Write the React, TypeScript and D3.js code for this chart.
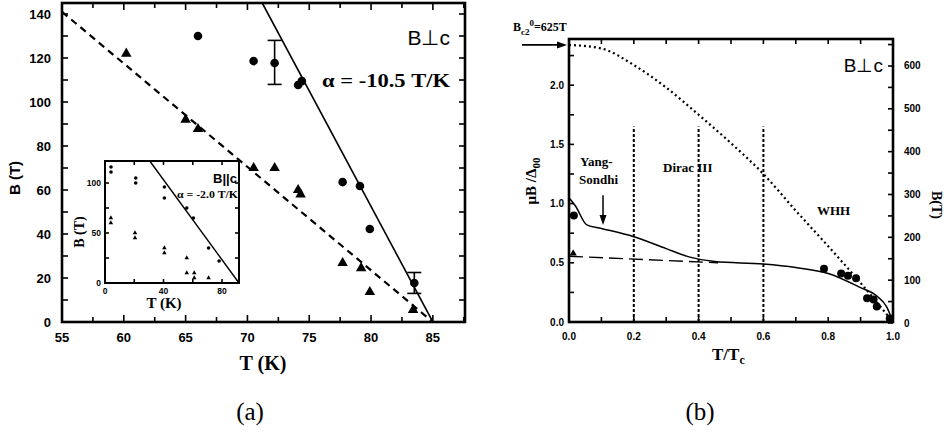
import React from "react";
import * as d3 from "d3";

const SANS = "'Liberation Sans', Arial, sans-serif";
const SERIF = "'Liberation Serif', 'Times New Roman', serif";

// ---- panel (a), B perpendicular to c ----
const circT = [66, 70.5, 72.2, 74.1, 74.4, 77.7, 79.1, 79.9, 83.5];
const circB = [130, 118.6, 117.7, 107.7, 109.5, 63.6, 61.8, 42.3, 17.7];
const triT = [60.2, 65, 66, 70.5, 72.2, 74.1, 74.3, 77.7, 79.2, 79.9, 83.4];
const triB = [122, 92, 87.7, 70, 70, 60, 58, 26.8, 24.5, 13.6, 5.5];
const errT = [72.2, 83.5];
const errLo = [108, 13];
const errHi = [128, 22.5];
const dashFitT = [55, 85];
const dashFitB = [141, 0];
const solidFitT = [71.2, 85];
const solidFitB = [145, 0];

// ---- inset, B parallel to c ----
const inCircT = [4.1, 4.1, 21, 21, 40.6, 40.6, 55.9, 60.4, 70.8, 78];
const inCircB = [116, 111, 105, 100, 96, 85, 75, 65, 35, 22];
const inTriT = [4, 4, 20.5, 20.5, 40.6, 40.6, 55.9, 55.9, 61, 61, 70.8];
const inTriB = [65, 60, 50, 45, 35, 30, 25, 10, 10, 5, 5];
const inFitT = [30.6, 91.6];
const inFitB = [122, 0];

// ---- panel (b) ----
const whhT = [0, 0.1, 0.2, 0.3, 0.4, 0.5, 0.6, 0.7, 0.8, 0.9, 1.0];
const whhV = [2.34, 2.31, 2.17, 1.98, 1.75, 1.51, 1.25, 0.94, 0.64, 0.33, 0];
const thT = [0, 0.02, 0.055, 0.1, 0.2, 0.3, 0.37, 0.45, 0.6, 0.7, 0.8, 0.9, 0.95, 0.98, 1.0];
const thV = [1.05, 0.98, 0.82, 0.79, 0.72, 0.62, 0.55, 0.51, 0.49, 0.46, 0.41, 0.29, 0.22, 0.13, 0];
const ldT = [0, 0.46];
const ldV = [0.555, 0.5];
const ptT = [0.015, 0.787, 0.84, 0.861, 0.886, 0.92, 0.94, 0.95, 0.99];
const ptV = [0.9, 0.45, 0.41, 0.39, 0.37, 0.2, 0.19, 0.13, 0.03];
const ptTriT = [0.013];
const ptTriV = [0.58];
const regionT = [0.2, 0.4, 0.6];
const regionTop = 1.65;

// scales
const xA = d3.scaleLinear().domain([55, 87.6]).range([62, 465]);
const yA = d3.scaleLinear().domain([0, 145]).range([322, 3]);
const xI = d3.scaleLinear().domain([0, 91.6]).range([105, 239]);
const yI = d3.scaleLinear().domain([0, 122]).range([283, 161]);
const xB = d3.scaleLinear().domain([0, 1]).range([569, 893]);
const yB = d3.scaleLinear().domain([0, 2.39]).range([322, 39]);
const yB2 = d3.scaleLinear().domain([0, 663]).range([323, 39]);

type Tick = { v: number; len: number };

function ticks(start: number, stop: number, step: number, majorEvery: number, big: number, small: number): Tick[] {
  const out: Tick[] = [];
  const n = Math.round((stop - start) / step);
  for (let i = 0; i <= n; i++) {
    out.push({ v: start + i * step, len: i % majorEvery === 0 ? big : small });
  }
  return out;
}

function Frame({ x, y, xt, yt, yt2, sw }: any) {
  const [x0, x1] = x.range();
  const [y0, y1] = y.range();
  const right = yt2 ? yt2.scale : y;
  return (
    <g stroke="#000" strokeWidth={1.6}>
      <rect x={x0} y={y1} width={x1 - x0} height={y0 - y1} fill="none" strokeWidth={sw} />
      {xt.map((t: Tick, i: number) => (
        <g key={"x" + i}>
          <line x1={x(t.v)} x2={x(t.v)} y1={y0} y2={y0 - t.len} />
          <line x1={x(t.v)} x2={x(t.v)} y1={y1} y2={y1 + t.len} />
        </g>
      ))}
      {yt.map((t: Tick, i: number) => (
        <line key={"y" + i} x1={x0} x2={x0 + t.len} y1={y(t.v)} y2={y(t.v)} />
      ))}
      {(yt2 ? yt2.ticks : yt).map((t: Tick, i: number) => (
        <line key={"r" + i} x1={x1} x2={x1 - t.len} y1={right(t.v)} y2={right(t.v)} />
      ))}
    </g>
  );
}

const tri = (size: number) => d3.symbol(d3.symbolTriangle, size)() as string;

export default function App() {
  const lineA = d3.line<number>().x((_, i) => xA(dashFitT[i])).y((d) => yA(d));
  const solidA = d3.line<number>().x((_, i) => xA(solidFitT[i])).y((d) => yA(d));
  const inLine = d3.line<number>().x((_, i) => xI(inFitT[i])).y((d) => yI(d));
  const whh = d3.line<number>().x((_, i) => xB(whhT[i])).y((d) => yB(d)).curve(d3.curveMonotoneX);
  const th = d3.line<number>().x((_, i) => xB(thT[i])).y((d) => yB(d)).curve(d3.curveMonotoneX);
  const ld = d3.line<number>().x((_, i) => xB(ldT[i])).y((d) => yB(d));

  const arrowY = yB(whhV[0]);
  const arrowX = xB(0);
  const ysX = xB(0.105);

  return (
    <svg width={946} height={442} style={{ position: "absolute", left: 0, top: 0, background: "#fff" }}>
      <defs>
        <clipPath id="clipA">
          <rect x={62} y={3} width={403} height={319} />
        </clipPath>
      </defs>

      {/* ===== panel (a) ===== */}
      <Frame
        x={xA}
        y={yA}
        sw={2.6}
        xt={ticks(55, 87.5, 2.5, 2, 7, 5)}
        yt={ticks(0, 140, 10, 2, 6, 6)}
      />
      <g clipPath="url(#clipA)">
        <path d={lineA(dashFitB) as string} fill="none" stroke="#000" strokeWidth={2.2} strokeDasharray="7,5" />
        <path d={solidA(solidFitB) as string} fill="none" stroke="#000" strokeWidth={1.6} />
      </g>
      {circT.map((t, i) => (
        <circle key={"c" + i} cx={xA(t)} cy={yA(circB[i])} r={4.3} fill="#000" />
      ))}
      {triT.map((t, i) => (
        <path key={"t" + i} d={tri(48)} transform={`translate(${xA(t)},${yA(triB[i])})`} fill="#000" />
      ))}
      {errT.map((t, i) => (
        <g key={"e" + i} stroke="#000" strokeWidth={1.6}>
          <line x1={xA(t)} x2={xA(t)} y1={yA(errLo[i])} y2={yA(errHi[i])} />
          <line x1={xA(t) - 7} x2={xA(t) + 7} y1={yA(errLo[i])} y2={yA(errLo[i])} />
          <line x1={xA(t) - 7} x2={xA(t) + 7} y1={yA(errHi[i])} y2={yA(errHi[i])} />
        </g>
      ))}
      <g fontFamily={SANS} fontWeight="bold" fontSize={13} fill="#000">
        {d3.range(55, 86, 5).map((v) => (
          <text key={v} x={xA(v)} y={342} textAnchor="middle">{v}</text>
        ))}
        {d3.range(0, 141, 20).map((v) => (
          <text key={v} x={51} y={yA(v) + 4.5} textAnchor="end">{v}</text>
        ))}
      </g>
      <text x={16} y={178} transform="rotate(-90,16,178)" textAnchor="middle" dominantBaseline="middle"
        fontFamily={SANS} fontWeight="bold" fontSize={15}>B (T)</text>
      <text x={263} y={370} textAnchor="middle" fontFamily={SERIF} fontWeight="bold" fontSize={20}>T (K)</text>
      <text x={450} y={45} textAnchor="end" fontFamily={SANS} fontSize={21}>B⊥c</text>
      <text x={322} y={87} textLength={128} lengthAdjust="spacingAndGlyphs" fontFamily={SERIF} fontWeight="bold" fontSize={18.5}>α = -10.5 T/K</text>

      {/* ===== inset ===== */}
      <rect x={105} y={161} width={134} height={122} fill="#fff" />
      <Frame
        x={xI}
        y={yI}
        sw={2}
        xt={ticks(0, 80, 20, 1, 4, 4)}
        yt={ticks(0, 100, 25, 1, 4, 4)}
      />
      <path d={inLine(inFitB) as string} fill="none" stroke="#000" strokeWidth={1.4} />
      {inCircT.map((t, i) => (
        <circle key={"ic" + i} cx={xI(t)} cy={yI(inCircB[i])} r={1.8} fill="#000" />
      ))}
      {inTriT.map((t, i) => (
        <path key={"it" + i} d={tri(9)} transform={`translate(${xI(t)},${yI(inTriB[i])})`} fill="#000" />
      ))}
      <g fontFamily={SANS} fontWeight="bold" fontSize={8.5} fill="#000">
        {[0, 40, 80].map((v) => (
          <text key={v} x={xI(v)} y={294} textAnchor="middle">{v}</text>
        ))}
        {[0, 50, 100].map((v) => (
          <text key={v} x={101} y={yI(v) + 3} textAnchor="end">{v}</text>
        ))}
      </g>
      <text x={81} y={232} transform="rotate(-90,81,232)" textAnchor="middle" dominantBaseline="middle"
        fontFamily={SERIF} fontWeight="bold" fontSize={14}>B (T)</text>
      <text x={164} y={308} textAnchor="middle" fontFamily={SERIF} fontWeight="bold" fontSize={15}>T (K)</text>
      <text x={237} y={183} textAnchor="end" fontFamily={SANS} fontWeight="bold" fontSize={13}>B||c</text>
      <text x={177} y={198} textLength={61} lengthAdjust="spacingAndGlyphs" fontFamily={SERIF} fontWeight="bold" fontSize={9.5}>α = -2.0 T/K</text>

      {/* ===== panel (b) ===== */}
      <Frame
        x={xB}
        y={yB}
        sw={2.6}
        xt={ticks(0, 1, 0.1, 1, 5, 5)}
        yt={ticks(0, 2.25, 0.25, 1, 5, 5)}
        yt2={{ scale: yB2, ticks: ticks(0, 650, 50, 1, 5, 5) }}
      />
      {regionT.map((t) => (
        <line key={t} x1={xB(t)} x2={xB(t)} y1={yB(0)} y2={yB(regionTop)} stroke="#000" strokeWidth={2} strokeDasharray="3,2" />
      ))}
      <path d={whh(whhV) as string} fill="none" stroke="#000" strokeWidth={2.2} strokeDasharray="2,3" />
      <path d={th(thV) as string} fill="none" stroke="#000" strokeWidth={1.5} />
      <path d={ld(ldV) as string} fill="none" stroke="#000" strokeWidth={1.4} strokeDasharray="14,6" />
      {ptT.map((t, i) => (
        <circle key={"p" + i} cx={xB(t)} cy={yB(ptV[i])} r={4} fill="#000" />
      ))}
      {ptTriT.map((t, i) => (
        <path key={"pt" + i} d={tri(22)} transform={`translate(${xB(t)},${yB(ptTriV[i])})`} fill="#000" />
      ))}
      <g fontFamily={SANS} fontWeight="bold" fontSize={10} fill="#000">
        {[0, 0.2, 0.4, 0.6, 0.8, 1.0].map((v) => (
          <text key={v} x={xB(v)} y={340} textAnchor="middle">{v.toFixed(1)}</text>
        ))}
        {[0, 0.5, 1.0, 1.5, 2.0].map((v) => (
          <text key={v} x={564} y={yB(v) + 3.5} textAnchor="end">{v.toFixed(1)}</text>
        ))}
        {d3.range(0, 601, 100).map((v) => (
          <text key={v} x={904} y={yB2(v) + 3.5} textAnchor="start">{v}</text>
        ))}
      </g>
      {/* Bc2 arrow */}
      <line x1={arrowX - 47} x2={arrowX - 8} y1={arrowY} y2={arrowY} stroke="#000" strokeWidth={1.6} />
      <path d={`M${arrowX - 2},${arrowY} l-10,-3.5 l0,7 z`} fill="#000" />
      <text x={513} y={31} fontFamily={SERIF} fontWeight="bold" fontSize={12}>
        B<tspan dy={4} fontSize={9}>c2</tspan><tspan dy={-9} fontSize={9}>0</tspan><tspan dy={5}>=625T</tspan>
      </text>
      {/* Yang-Sondhi arrow */}
      <line x1={ysX} x2={ysX} y1={yB(1.07)} y2={yB(0.88)} stroke="#000" strokeWidth={1.5} />
      <path d={`M${ysX},${yB(0.82)} l-3.5,-10 l7,0 z`} fill="#000" />
      <g fontFamily={SERIF} fontWeight="bold" fontSize={13} fill="#000">
        <text x={580} y={166}>Yang-</text>
        <text x={579} y={184}>Sondhi</text>
        <text x={663} y={172}>Dirac III</text>
        <text x={817} y={215}>WHH</text>
      </g>
      <text x={883} y={72} textAnchor="end" fontFamily={SANS} fontSize={19}>B⊥c</text>
      <text x={712} y={360} fontFamily={SERIF} fontWeight="bold" fontSize={17}>
        T/T<tspan dy={4} fontSize={12}>c</tspan>
      </text>
      <text x={533} y={181} transform="rotate(-90,533,181)" textAnchor="middle" dominantBaseline="middle"
        fontFamily={SERIF} fontWeight="bold" fontSize={15}>
        μB /Δ<tspan dy={4} fontSize={11}>00</tspan>
      </text>
      <text x={935} y={205} transform="rotate(90,935,205)" textAnchor="middle" dominantBaseline="middle"
        fontFamily={SERIF} fontWeight="bold" fontSize={14}>B(T)</text>

      {/* captions */}
      <text x={250} y={420} textAnchor="middle" fontFamily={SERIF} fontSize={25}>(a)</text>
      <text x={700} y={420} textAnchor="middle" fontFamily={SERIF} fontSize={25}>(b)</text>
    </svg>
  );
}
